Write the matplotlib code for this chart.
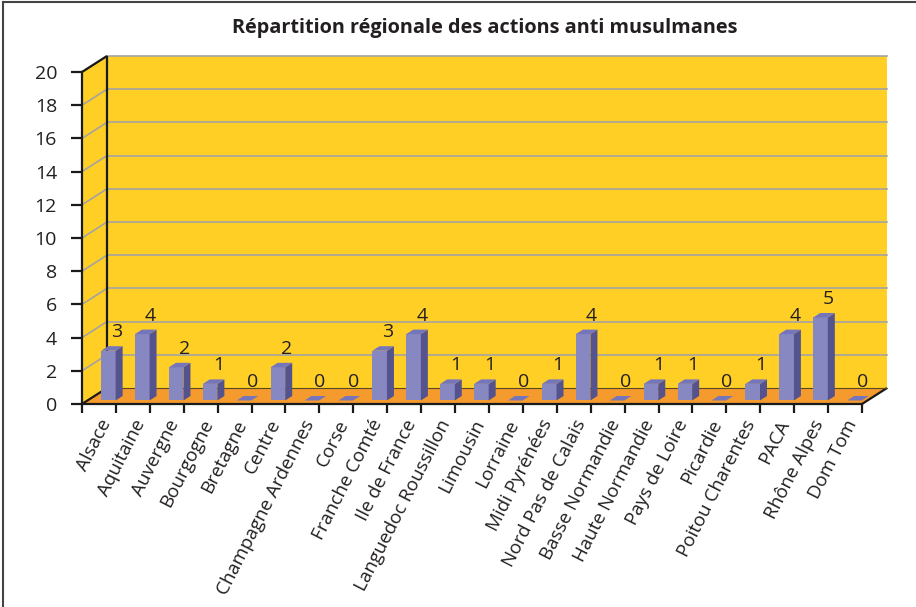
import matplotlib
matplotlib.use("Agg")
from matplotlib import pyplot as plt
from matplotlib.patches import Polygon
from matplotlib.lines import Line2D
import numpy as np

plt.rcParams['font.family'] = ['Open Sans', 'DejaVu Sans']

regions = ['Alsace', 'Aquitaine', 'Auvergne', 'Bourgogne', 'Bretagne', 'Centre',
           'Champagne Ardennes', 'Corse', 'Franche Comté', 'Ile de France',
           'Languedoc Roussillon', 'Limousin', 'Lorraine', 'Midi Pyrénées',
           'Nord Pas de Calais', 'Basse Normandie', 'Haute Normandie',
           'Pays de Loire', 'Picardie', 'Poitou Charentes', 'PACA',
           'Rhône Alpes', 'Dom Tom']
actions = [3, 4, 2, 1, 0, 2, 0, 0, 3, 4, 1, 1, 0, 1, 4, 0, 1, 1, 0, 1, 4, 5, 0]
y_ticks = np.arange(0, 21, 2)

title = 'Répartition régionale des actions anti musulmanes'

# colours of the 3D box
wall_col = '#FFCF26'
floor_col = '#F59A2D'
grid_col = '#A3A3A3'
front_col = '#8787C2'
side_col = '#54538E'
top_col = '#7575BC'
text_col = '#231F20'

W, H = 916, 607
fig = plt.figure(figsize=(W / 100, H / 100), dpi=100)

# front plane of the box, in pixels
x0, x1 = 82, 862
y0, y1 = 404, 72
ax = fig.add_axes([x0 / W, 1 - y0 / H, (x1 - x0) / W, (y0 - y1) / H])
n = len(regions)
ymax = 20
ax.set_xlim(0, n)
ax.set_ylim(0, ymax)
ax.patch.set_visible(False)

# depth of the box, expressed in data units
px_x = (x1 - x0) / n
px_y = (y0 - y1) / ymax
DX = 25 / px_x
DY = 16 / px_y

# walls and floor
ax.add_patch(Polygon([(DX, DY), (n + DX, DY), (n + DX, ymax + DY), (DX, ymax + DY)],
                     closed=True, fc=wall_col, ec='none', zorder=0, clip_on=False))
ax.add_patch(Polygon([(0, 0), (DX, DY), (DX, ymax + DY), (0, ymax)],
                     closed=True, fc=wall_col, ec='none', zorder=0, clip_on=False))
for v in y_ticks[1:]:
    ax.plot([DX, n + DX], [v + DY, v + DY], color=grid_col, lw=1.2, zorder=1, clip_on=False)
    ax.plot([0, DX], [v, v + DY], color=grid_col, lw=1.2, zorder=1, clip_on=False)
ax.add_patch(Polygon([(0, 0), (n, 0), (n + DX, DY), (DX, DY)],
                     closed=True, fc=floor_col, ec='none', zorder=2, clip_on=False))

edge = dict(color='#1a1a1a', lw=1.6, zorder=3, clip_on=False, solid_capstyle='butt')
ax.plot([0, DX], [ymax, ymax + DY], **edge)
ax.plot([DX, DX], [DY, ymax + DY], **edge)
ax.plot([0, DX], [0, DY], **edge)
ax.plot([n, n + DX], [0, DY], **edge)
ax.plot([DX, n + DX], [DY, DY], color='#5a4a20', lw=0.8, zorder=3, clip_on=False)

# 3D columns
b_left, b_right = 0.40, 0.83
d_front, d_back = 0.22, 0.50
for i, v in enumerate(actions):
    xl, xr = i + b_left, i + b_right
    fx, fy = d_front * DX, d_front * DY
    bx, by = d_back * DX, d_back * DY
    top = [(xl + fx, v + fy), (xr + fx, v + fy), (xr + bx, v + by), (xl + bx, v + by)]
    if v > 0:
        ax.add_patch(Polygon([(xl + fx, fy), (xr + fx, fy), (xr + fx, v + fy), (xl + fx, v + fy)],
                             closed=True, fc=front_col, ec='none', zorder=4, clip_on=False))
        ax.add_patch(Polygon([(xr + fx, fy), (xr + bx, by), (xr + bx, v + by), (xr + fx, v + fy)],
                             closed=True, fc=side_col, ec='none', zorder=4, clip_on=False))
    ax.add_patch(Polygon(top, closed=True, fc=top_col, ec='none', zorder=5, clip_on=False))
    ax.annotate(str(v), ((xl + xr) / 2 + 0.55 * DX, v + 0.5 * DY),
                xytext=(0, 14), textcoords='offset pixels', ha='center', va='center',
                fontsize=14, color=text_col, zorder=6, annotation_clip=False)

# axes and ticks
for s in ['top', 'right']:
    ax.spines[s].set_visible(False)
for s in ['left', 'bottom']:
    ax.spines[s].set_color('#1a1a1a')
    ax.spines[s].set_linewidth(1.6)
    ax.spines[s].set_zorder(3)

ax.set_yticks(y_ticks)
ax.set_yticklabels([str(v) for v in y_ticks])
ax.tick_params(axis='y', direction='out', length=8, width=1.6, color='#1a1a1a',
               pad=10, labelsize=14, labelcolor=text_col)

ax.set_xticks(np.arange(n + 1))
ax.set_xticklabels([])
ax.set_xticks(np.arange(n) + 0.5, minor=True)
ax.set_xticklabels(regions, minor=True, rotation=63, ha='right', va='top',
                   rotation_mode='anchor')
ax.tick_params(axis='x', which='major', direction='out', length=6.5, width=1.6,
               color='#1a1a1a')
ax.tick_params(axis='x', which='minor', length=0, pad=9, labelsize=13.5,
               labelcolor=text_col)

fig.text(485 / W, 1 - 28 / H, title, ha='center', va='center',
         fontsize=14.3, fontweight='bold', color=text_col)

# chart frame
fig.add_artist(Line2D([3 / W, 3 / W], [0, 1 - 2 / H], color='#444444', lw=1.5))
fig.add_artist(Line2D([3 / W, 1], [1 - 2 / H, 1 - 2 / H], color='#444444', lw=1.5))

fig.savefig('out.png', dpi=100)
